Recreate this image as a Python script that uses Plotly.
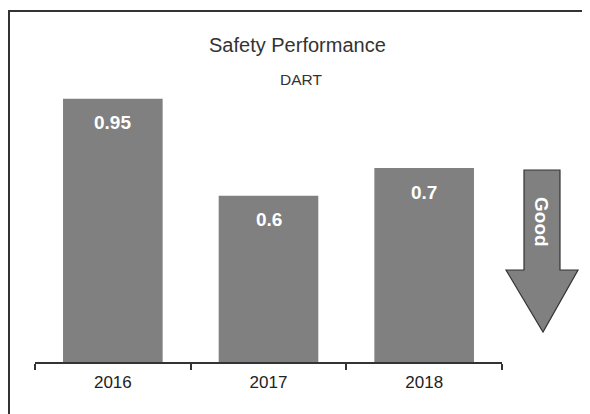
import plotly.graph_objects as go

years = ["2016", "2017", "2018"]
dart = [0.95, 0.6, 0.7]
value_labels = ["0.95", "0.6", "0.7"]

# page body has an 8px margin; work in reference-pixel coords and offset
OFF = 8
W, H = 590 - OFF, 414 - OFF
L, R, T, B = 35 - OFF, 590 - 502, 85 - OFF, 414 - 362
pw, ph = W - L - R, H - T - B

def px(x):
    return (x - OFF - L) / pw

def py(y):
    return (H - B - (y - OFF)) / ph

FONT = "Liberation Sans, Arial"

fig = go.Figure()
fig.add_trace(go.Bar(
    x=years, y=dart, marker=dict(color="#808080", line=dict(width=0)),
    hoverinfo="skip", showlegend=False,
))

for i, (v, lab) in enumerate(zip(dart, value_labels)):
    fig.add_annotation(x=i, y=v, text="<b>" + lab + "</b>", showarrow=False, yshift=-24,
                       xanchor="center", yanchor="middle",
                       font=dict(family=FONT, size=19, color="white"),
                       xref="x", yref="y")

# frame
fig.add_shape(type="path", xref="paper", yref="paper",
              path=f"M {px(9)} {py(420)} L {px(9)} {py(11)} L {px(600)} {py(11)}",
              line=dict(color="#333333", width=2))

# arrow
pts = [(524, 170), (560, 170), (560, 270), (578, 270), (543, 332),
       (506, 270), (524, 270)]
path = "M " + " L ".join(f"{px(x)} {py(y)}" for x, y in pts) + " Z"
fig.add_shape(type="path", xref="paper", yref="paper", path=path,
              fillcolor="#808080", line=dict(color="#333333", width=1.2))
fig.add_annotation(x=px(542), y=py(222), xref="paper", yref="paper",
                   xanchor="center", yanchor="middle",
                   text="<b>Good</b>", showarrow=False, textangle=90,
                   font=dict(family=FONT, size=19, color="white"))

fig.add_annotation(x=px(297), y=py(45), xref="paper", yref="paper",
                   xanchor="center", yanchor="middle",
                   text="Safety Performance", showarrow=False,
                   font=dict(family=FONT, size=20, color="#333333"))
fig.add_annotation(x=px(301), y=py(80), xref="paper", yref="paper",
                   xanchor="center", yanchor="middle",
                   text="DART", showarrow=False,
                   font=dict(family=FONT, size=15.5, color="#333333"))

fig.update_layout(
    width=W, height=H, margin=dict(l=L, r=R, t=T, b=B, autoexpand=False),
    paper_bgcolor="white", plot_bgcolor="white", bargap=0.36,
    font=dict(family=FONT, color="#333333"),
    xaxis=dict(type="category", range=[-0.5, 2.5], showline=True, linecolor="#333333",
               linewidth=1.5, ticks="outside", tickson="boundaries", ticklen=6,
               tickcolor="#333333", tickwidth=1.5, showgrid=False, zeroline=False,
               ticklabelstandoff=4,
               tickfont=dict(size=17, color="#222222")),
    yaxis=dict(range=[0, 1.0], visible=False, showgrid=False, zeroline=False,
               fixedrange=True),
)

fig.write_html("out.html")
